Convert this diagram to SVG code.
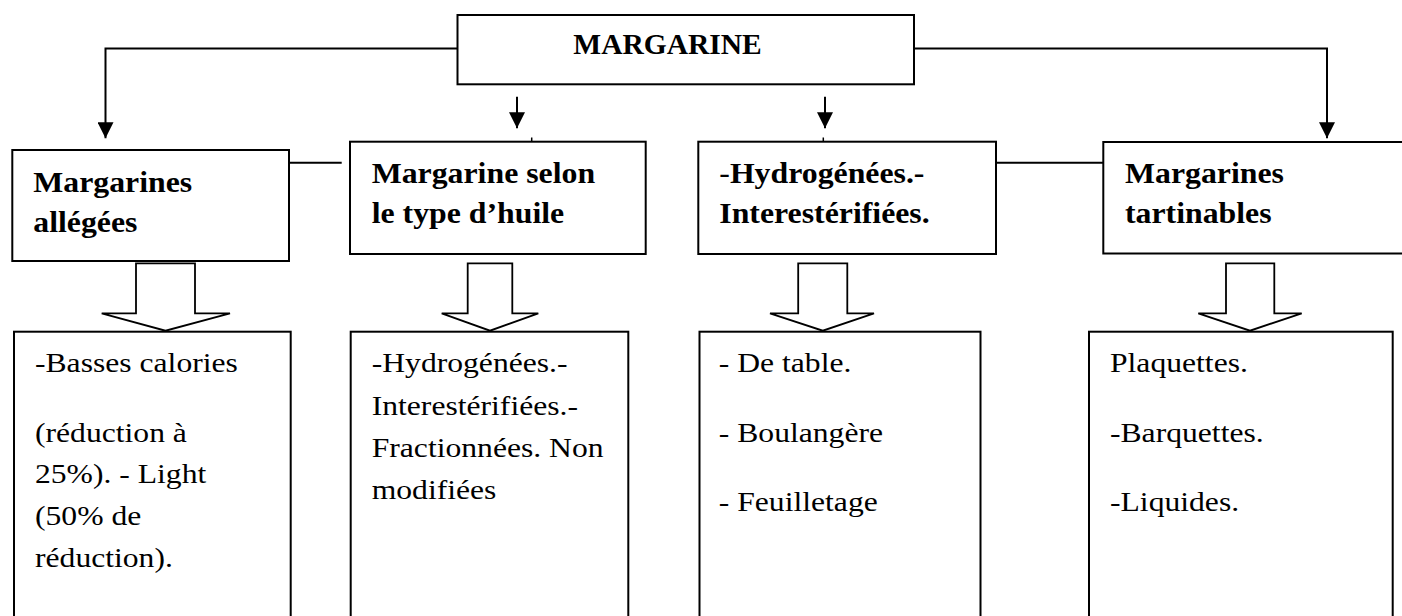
<svg xmlns="http://www.w3.org/2000/svg" width="1402" height="616" viewBox="0 0 1402 616">
  <style>
    .box { fill: #ffffff; stroke: #000000; stroke-width: 2; }
    .conn { fill: none; stroke: #000000; stroke-width: 2; }
    .tick { fill: none; stroke: #000000; stroke-width: 1.5; }
    .hollow { fill: #ffffff; stroke: #000000; stroke-width: 1.8; stroke-linejoin: miter; }
    .bold { font-family: "Liberation Serif", "Times New Roman", serif; font-weight: bold; font-size: 30px; fill: #000000; }
    .title { font-family: "Liberation Serif", "Times New Roman", serif; font-weight: bold; font-size: 29.5px; fill: #000000; }
    .reg { font-family: "Liberation Serif", "Times New Roman", serif; font-weight: normal; font-size: 28px; fill: #000000; }
  </style>
  <defs>
    <marker id="arrow" markerUnits="userSpaceOnUse" markerWidth="16" markerHeight="16" refX="16" refY="8" orient="auto">
      <path d="M0,0 L16,8 L0,16 Z" fill="#000000"/>
    </marker>
  </defs>
  <rect x="0" y="0" width="1402" height="616" fill="#ffffff"/>

  <g id="connectors">
    <path class="conn" d="M457.5,48.5 H105.5 V138.3" marker-end="url(#arrow)"/>
    <path class="conn" d="M914,48.5 H1327 V138.3" marker-end="url(#arrow)"/>
    <line class="conn" x1="517" y1="96.7" x2="517" y2="128.3" marker-end="url(#arrow)"/>
    <line class="conn" x1="825" y1="96.7" x2="825" y2="128.3" marker-end="url(#arrow)"/>
    <line class="tick" x1="531.7" y1="137.5" x2="531.7" y2="141.7"/>
    <line class="tick" x1="823.3" y1="137.5" x2="823.3" y2="141.7"/>
    <line class="conn" x1="289" y1="162.7" x2="341.7" y2="162.7"/>
    <line class="conn" x1="996" y1="162.7" x2="1103.3" y2="162.7"/>
    <path class="hollow" d="M136,263.3 L195,263.3 L195,313.3 L230,313.3 L165.5,330.7 L101.7,313.3 L136,313.3 Z"/>
    <path class="hollow" d="M467.7,263.3 L512.3,263.3 L512.3,313.3 L538.3,313.3 L490,330.7 L441.7,313.3 L467.7,313.3 Z"/>
    <path class="hollow" d="M798.2,263.3 L847.3,263.3 L847.3,313.3 L874,313.3 L822.8,330.7 L770,313.3 L798.2,313.3 Z"/>
    <path class="hollow" d="M1226,263.3 L1274.3,263.3 L1274.3,313.3 L1301.7,313.3 L1250,330.7 L1198.3,313.3 L1226,313.3 Z"/>
  </g>

  <g id="margarine">
    <rect class="box" x="457.5" y="15" width="456.5" height="69.3"/>
    <text class="title" x="573.3" y="54">MARGARINE</text>
  </g>

  <g id="allegees">
    <rect class="box" x="12.3" y="150" width="276.7" height="111"/>
    <text class="bold" transform="translate(33.3,0) scale(1.06,1)"><tspan x="0" y="191.7">Margarines</tspan><tspan x="0" y="231.7">allégées</tspan></text>
  </g>

  <g id="type-huile">
    <rect class="box" x="350" y="141.7" width="295.7" height="112.3"/>
    <text class="bold" transform="translate(371.7,0) scale(1.06,1)"><tspan x="0" y="183.3">Margarine selon</tspan><tspan x="0" y="222.7">le type d’huile</tspan></text>
  </g>

  <g id="hydrogenees">
    <rect class="box" x="698.3" y="141.7" width="297.7" height="112.3"/>
    <text class="bold" transform="translate(719.3,0) scale(1.06,1)"><tspan x="0" y="182.7"><tspan font-weight="normal">-</tspan>Hydrogénées.-</tspan><tspan x="0" y="222.7">Interestérifiées.</tspan></text>
  </g>

  <g id="tartinables">
    <rect class="box" x="1103.3" y="142" width="310" height="111.5"/>
    <text class="bold" transform="translate(1125,0) scale(1.06,1)"><tspan x="0" y="182.7">Margarines</tspan><tspan x="0" y="223.3">tartinables</tspan></text>
  </g>

  <g id="detail-allegees">
    <rect class="box" x="14" y="331.7" width="276.7" height="300"/>
    <text class="reg" transform="translate(35,0) scale(1.13,1)"><tspan x="0" y="372.3">-Basses calories</tspan><tspan x="0" y="441.7">(réduction à</tspan><tspan x="0" y="483.5">25%). - Light</tspan><tspan x="0" y="525.3">(50% de</tspan><tspan x="0" y="567">réduction).</tspan></text>
  </g>

  <g id="detail-huile">
    <rect class="box" x="350.7" y="331.7" width="277.6" height="300"/>
    <text class="reg" transform="translate(371.7,0) scale(1.13,1)"><tspan x="0" y="372.3">-Hydrogénées.-</tspan><tspan x="0" y="414.6">Interestérifiées.-</tspan><tspan x="0" y="456.9">Fractionnées. Non</tspan><tspan x="0" y="499.2">modifiées</tspan></text>
  </g>

  <g id="detail-usage">
    <rect class="box" x="699.5" y="331.7" width="281" height="300"/>
    <text class="reg" transform="translate(718.8,0) scale(1.13,1)"><tspan x="0" y="372.3">- De table.</tspan><tspan x="0" y="441.7">- Boulangère</tspan><tspan x="0" y="510.7">- Feuilletage</tspan></text>
  </g>

  <g id="detail-tartinables">
    <rect class="box" x="1089" y="331.7" width="303.7" height="300"/>
    <text class="reg" transform="translate(1110,0) scale(1.13,1)"><tspan x="0" y="372.3">Plaquettes.</tspan><tspan x="0" y="441.7">-Barquettes.</tspan><tspan x="0" y="510.7">-Liquides.</tspan></text>
  </g>
</svg>
